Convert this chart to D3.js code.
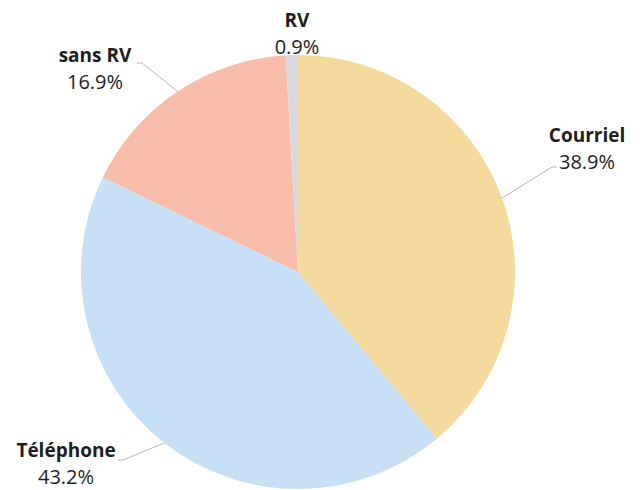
<!DOCTYPE html>
<html>
<head>
<meta charset="utf-8">
<script src="https://cdn.jsdelivr.net/npm/d3@7"></script>
<style>
  body { margin: 0; background: #fff; }
  svg text { font-family: "Open Sans", Lato, sans-serif; fill: #1e1e1e; }
</style>
</head>
<body>
<svg id="chart" width="643" height="490"></svg>
<script>
// values, clockwise from 12 o'clock
var categories = ["Courriel", "Téléphone", "sans RV", "RV"];
var shares = [38.9, 43.2, 16.9, 0.9];
var colours = ["#f5da9d", "#c7e0f5", "#f7bcaa", "#d9d8df"];

// label placement (text centre x, first baseline y, leader elbow, text edge) -- layout only
var labelLayout = {
    "Courriel": { x: 587, y: 142, elbow: [552, 167], edge: [557, 167] },
    "Téléphone": { x: 66, y: 457, elbow: [123, 460], edge: [118, 460] },
    "sans RV": { x: 95, y: 62, elbow: [142, 63], edge: [137, 63] },
    "RV": { x: 297, y: 27, elbow: null, edge: null }
};

var cx = 298, cy = 272, radius = 217;

var svg = d3.select("#chart");
var g = svg.append("g").attr("transform", "translate(" + cx + "," + cy + ")");

var data = categories.map(function (c, i) {
    return { label: c, value: shares[i], colour: colours[i] };
});

var pie = d3.pie().sort(null).value(function (d) { return d.value; });
var arc = d3.arc().innerRadius(0).outerRadius(radius);
var rimArc = d3.arc().innerRadius(radius).outerRadius(radius);

var slices = pie(data);

g.selectAll("path.slice")
    .data(slices)
    .enter().append("path")
    .attr("class", "slice")
    .attr("d", arc)
    .attr("fill", function (d) { return d.data.colour; });

// leader lines
slices.forEach(function (s) {
    var lay = labelLayout[s.data.label];
    if (!lay.elbow) return;
    var p = rimArc.centroid(s);
    var pts = [[p[0] + cx, p[1] + cy], lay.elbow, lay.edge];
    svg.append("path")
        .attr("d", d3.line()(pts))
        .attr("fill", "none")
        .attr("stroke", "#b8b8b8")
        .attr("stroke-width", 1);
});

// labels
var fmt = d3.format(".1f");
slices.forEach(function (s) {
    var lay = labelLayout[s.data.label];
    var t = svg.append("text")
        .attr("text-anchor", "middle");
    t.append("tspan")
        .attr("x", lay.x).attr("y", lay.y)
        .attr("font-size", 19)
        .attr("font-weight", "bold")
        .text(s.data.label);
    t.append("tspan")
        .attr("x", lay.x).attr("y", lay.y + 27)
        .attr("font-size", 20)
        .attr("font-weight", "normal")
        .text(fmt(s.data.value) + "%");
});
</script>
</body>
</html>
